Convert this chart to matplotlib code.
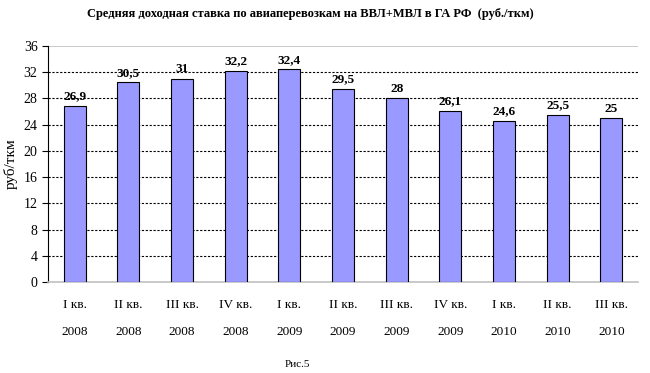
import matplotlib.pyplot as plt
import numpy as np

# данные
quarters = ['I кв.', 'II кв.', 'III кв.', 'IV кв.', 'I кв.', 'II кв.', 'III кв.',
            'IV кв.', 'I кв.', 'II кв.', 'III кв.']
years = ['2008', '2008', '2008', '2008', '2009', '2009', '2009', '2009',
         '2010', '2010', '2010']
values = [26.9, 30.5, 31, 32.2, 32.4, 29.5, 28, 26.1, 24.6, 25.5, 25]
value_labels = ['26,9', '30,5', '31', '32,2', '32,4', '29,5', '28', '26,1',
                '24,6', '25,5', '25']

plt.rcParams['font.family'] = ['Liberation Serif', 'DejaVu Serif']

fig = plt.figure(figsize=(6.5, 3.73), dpi=100)
ax = fig.add_axes([0.0738, 0.244, 0.908, 0.633])

x = np.arange(len(values))
ax.bar(x, values, width=0.41, color='#9999ff', edgecolor='black', linewidth=0.8, zorder=3)

for xi, v, lab in zip(x, values, value_labels):
    ax.text(xi, v + 0.5, lab, ha='center', va='bottom', fontsize=9.5,
            fontweight='bold', zorder=4)

ax.set_xlim(-0.5, len(values) - 0.5)
ax.set_ylim(0, 36)
ax.set_yticks(np.arange(0, 37, 4))
ax.tick_params(axis='y', labelsize=10, direction='out', length=4, width=0.8)
ax.tick_params(axis='x', length=0)
ax.set_xticks(x)
ax.set_xticklabels([q + '\n\n' + y for q, y in zip(quarters, years)],
                   fontsize=9.5, linespacing=1.2)
ax.tick_params(axis='x', pad=12)

for yv in range(4, 33, 4):
    ax.axhline(yv, color='black', linestyle=(0, (2, 1.5)), linewidth=0.8, zorder=1)
ax.axhline(36, color='#c0c0c0', linewidth=1.2, zorder=1)

ax.spines['top'].set_visible(False)
ax.spines['right'].set_visible(False)
ax.spines['bottom'].set_color('#c0c0c0')
ax.spines['bottom'].set_linewidth(1.2)
ax.spines['left'].set_linewidth(0.8)

ax.set_ylabel('руб/ткм', fontsize=11, labelpad=4)

fig.text(0.478, 0.962, 'Средняя доходная ставка по авиаперевозкам на ВВЛ+МВЛ в ГА РФ  (руб./ткм)',
         ha='center', va='center', fontsize=9, fontweight='bold')
fig.text(0.458, 0.024, 'Рис.5', ha='center', va='center', fontsize=8)

fig.savefig('out.png', dpi=100)
